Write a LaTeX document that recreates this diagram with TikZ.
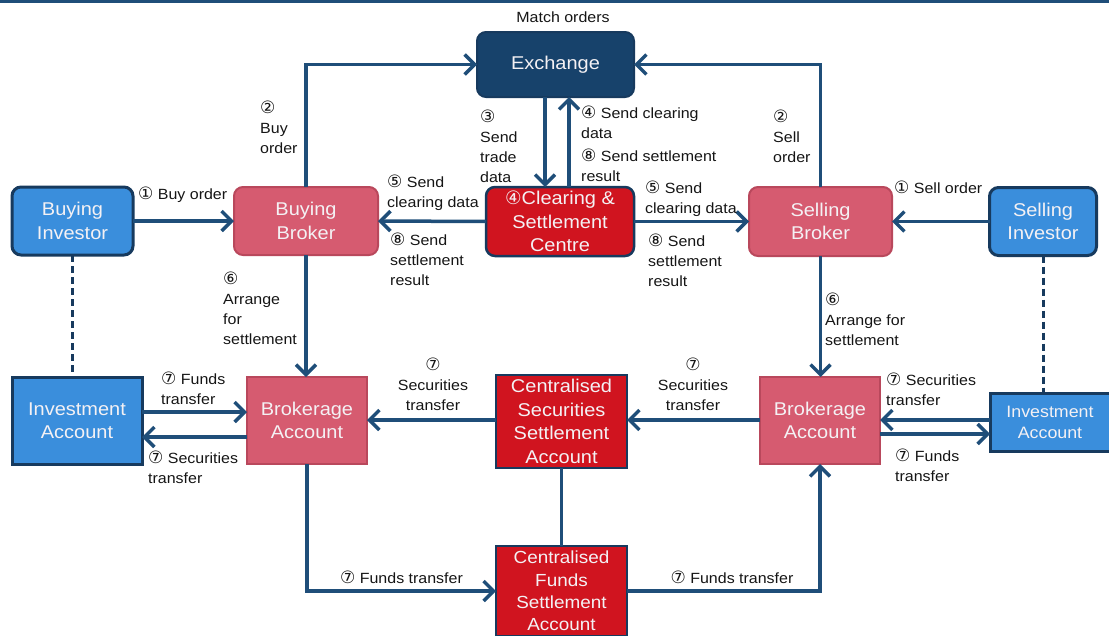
\documentclass[tikz,border=0pt]{standalone}
\usepackage{fontspec}
\setmainfont{Liberation Sans}[FakeStretch=1.08]
\newfontfamily\numfont{DejaVu Sans}
\usetikzlibrary{arrows.meta,calc}
% circled step numbers, set a little larger than the surrounding text
\newcommand{\cn}[1]{{\numfont\scalebox{1.15}{#1}}}

\definecolor{navy}{HTML}{1F4E79}
\definecolor{exfill}{HTML}{17426B}
\definecolor{redfill}{HTML}{D0141F}
\definecolor{pinkfill}{HTML}{D65B70}
\definecolor{pinkedge}{HTML}{B9485C}
\definecolor{bluefill}{HTML}{3A8EDC}
\definecolor{boxedge}{HTML}{173A5E}
\definecolor{lighttext}{HTML}{F4F1F4}
\definecolor{labeltext}{HTML}{151515}

\tikzset{
  box/.style={align=center, inner sep=0pt, outer sep=0pt, text=lighttext,
    font=\fontsize{18.5}{23.5}\selectfont},
  exbox/.style={box, fill=exfill, draw=boxedge, line width=2pt, rounded corners=9pt},
  redbox/.style={box, fill=redfill, draw=boxedge, line width=2.5pt},
  pinkbox/.style={box, fill=pinkfill, draw=pinkedge, line width=2pt},
  bluebox/.style={box, fill=bluefill, draw=boxedge, line width=3pt},
  round/.style={rounded corners=9pt},
  lbl/.style={align=left, inner sep=0pt, text=labeltext,
    font=\fontsize{14.8}{20}\selectfont},
  clbl/.style={lbl, align=center},
  link/.style={draw=navy, line width=3.5pt},
  arr/.style={link, -{Straight Barb[length=10pt,width=20pt,line width=3.5pt]}},
  dashline/.style={draw=boxedge, line width=3pt, dash pattern=on 7pt off 4pt}
}

\begin{document}
\begin{tikzpicture}[x=1pt,y=-1pt]
\useasboundingbox (0,0) rectangle (1109,635);
\fill[navy] (0,0) rectangle (1109,2.5);

% --- boxes ---
\node[exbox, minimum width=157pt, minimum height=65pt] (ex) at (555.5,64.5) {Exchange};
\node[redbox, round, minimum width=148pt, minimum height=69pt] (cl) at (560,221.5)
  {{\numfont ④}Clearing \&\\Settlement\\Centre};
\node[bluebox, round, minimum width=121pt, minimum height=68pt] (bi) at (72.5,221) {Buying\\Investor};
\node[pinkbox, round, minimum width=144pt, minimum height=68pt] (bb) at (306,221) {Buying\\Broker};
\node[pinkbox, round, minimum width=143pt, minimum height=69pt] (sb) at (820.5,221.5) {Selling\\Broker};
\node[bluebox, round, minimum width=107pt, minimum height=68pt] (si) at (1043,221.5) {Selling\\Investor};

\node[bluebox, minimum width=130pt, minimum height=87pt] (ia) at (77,420.5) {Investment\\Account};
\node[pinkbox, minimum width=120pt, minimum height=87pt] (bl) at (307,420.5) {Brokerage\\Account};
\node[redbox, minimum width=131pt, minimum height=93pt] (cs) at (561.5,421.5)
  {Centralised\\Securities\\Settlement\\Account};
\node[pinkbox, minimum width=120pt, minimum height=87pt] (br) at (820,420.5) {Brokerage\\Account};
\node[bluebox, minimum width=120pt, minimum height=58pt, font=\fontsize{16.5}{21}\selectfont]
  (ir) at (1050,422) {Investment\\Account};
\node[redbox, minimum width=131pt, minimum height=90pt, font=\fontsize{17.5}{22.3}\selectfont]
  (cf) at (561.5,591) {Centralised\\Funds\\Settlement\\Account};

% --- helper coordinates for parallel links ---
\coordinate (xa) at (545,0);
\coordinate (xb) at (569,0);
\coordinate (ya) at (0,412);
\coordinate (yb) at (0,437);
\coordinate (yc) at (0,420);
\coordinate (yd) at (0,434);

% --- order flow ---
\draw[arr] (bb.north) |- (ex.west);
\draw[arr] (sb.north) |- (ex.east);
\draw[arr] (ex.south -| xa) -- (cl.north -| xa);
\draw[arr] (cl.north -| xb) -- (ex.south -| xb);
\draw[arr] (cl.west) -- (bb.east);
\draw[arr] (cl.east) -- (sb.west);
\draw[arr] (bi.east) -- (bb.west);
\draw[arr] (si.west) -- (sb.east);

% --- investors to their accounts ---
\draw[dashline] (bi.south) -- (bi.south |- ia.north);
\draw[dashline] (si.south) -- (si.south |- ir.north);

% --- settlement ---
\draw[arr] (bb.south) -- (bb.south |- bl.north);
\draw[arr] (sb.south) -- (sb.south |- br.north);
\draw[arr] (ia.east |- ya) -- (bl.west |- ya);
\draw[arr] (bl.west |- yb) -- (ia.east |- yb);
\draw[arr] (ir.west |- yc) -- (br.east |- yc);
\draw[arr] (br.east |- yd) -- (ir.west |- yd);
\draw[arr] (cs.west |- yc) -- (bl.east |- yc);
\draw[arr] (br.west |- yc) -- (cs.east |- yc);
\draw[link] (cs.south) -- (cf.north);
\draw[arr] (bl.south) |- (cf.west);
\draw[arr] (cf.east) -| (br.south);

% --- labels ---
\node[clbl] (mo) at (563,17) {Match orders};
\node[lbl, anchor=west] (l2b) at (260,127) {\cn{②}\\Buy\\order};
\node[lbl, anchor=west] (l2s) at (773,136) {\cn{②}\\Sell\\order};
\node[lbl, anchor=west] (l3) at (480,146.5) {\cn{③}\\Send\\trade\\data};
\node[lbl, anchor=west] (l4) at (581,122) {\cn{④} Send clearing\\data};
\node[lbl, anchor=west] (l8a) at (581,165) {\cn{⑧} Send settlement\\result};
\node[lbl, anchor=west] (l5l) at (387,193) {\cn{⑤} Send\\clearing data};
\node[lbl, anchor=west] (l8l) at (390,259) {\cn{⑧} Send\\settlement\\result};
\node[lbl, anchor=west] (l5r) at (645,199) {\cn{⑤} Send\\clearing data};
\node[lbl, anchor=west] (l8r) at (648,260.5) {\cn{⑧} Send\\settlement\\result};
\node[lbl, anchor=west] (l1b) at (138,195) {\cn{①} Buy order};
\node[lbl, anchor=west] (l1s) at (894,187) {\cn{①} Sell order};
\node[lbl, anchor=west] (l6l) at (223,308) {\cn{⑥}\\Arrange\\for\\settlement};
\node[lbl, anchor=west] (l6r) at (825,319) {\cn{⑥}\\Arrange for\\settlement};
\node[lbl, anchor=west] (l7fl) at (161,388.5) {\cn{⑦} Funds\\transfer};
\node[lbl, anchor=west] (l7sl) at (148,467) {\cn{⑦} Securities\\transfer};
\node[clbl] (l7cl) at (433,384) {\cn{⑦}\\Securities\\transfer};
\node[clbl] (l7cr) at (693,384) {\cn{⑦}\\Securities\\transfer};
\node[lbl, anchor=west] (l7sr) at (886,389.5) {\cn{⑦} Securities\\transfer};
\node[lbl, anchor=west] (l7fr) at (895,465.5) {\cn{⑦} Funds\\transfer};
\node[clbl] (l7bl) at (401.5,577) {\cn{⑦} Funds transfer};
\node[clbl] (l7br) at (732,577) {\cn{⑦} Funds transfer};
\end{tikzpicture}
\end{document}
